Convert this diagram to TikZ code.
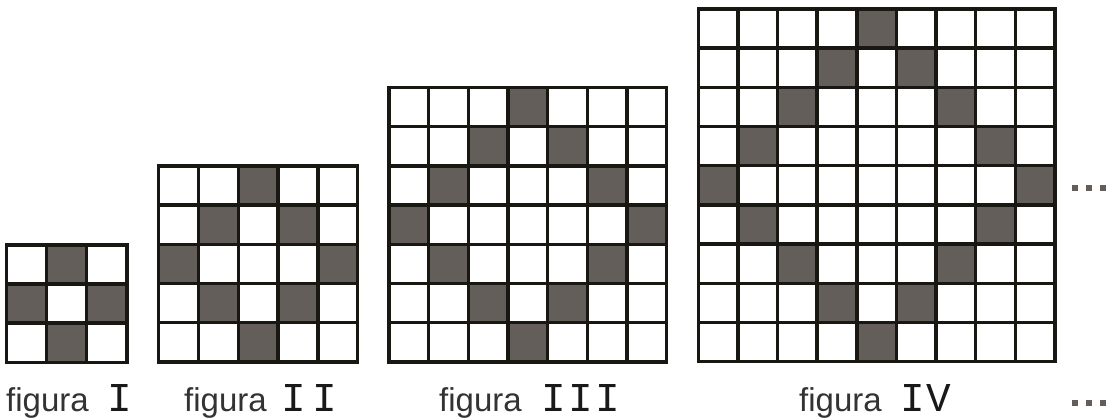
\documentclass[tikz,border=0pt]{standalone}
\usepackage{fontspec}
\newfontfamily\lsans{Liberation Sans}
\newfontfamily\lmono{Liberation Mono}
\definecolor{cellgray}{RGB}{99,94,89}
\definecolor{gridline}{RGB}{24,23,18}
\begin{document}
\begin{tikzpicture}[x=1pt,y=1pt,
  gridstroke/.style={draw=gridline,line width=3.4pt,line cap=rect},
  cellfill/.style={fill=cellgray},
  dotsq/.style={fill=cellgray},
  wordlabel/.style={anchor=base west,inner sep=0pt,font=\lsans\fontsize{33}{33}\selectfont,text=black!80},
  numlabel/.style={anchor=base,inner sep=0pt,font=\lmono\fontsize{41}{41}\selectfont,text=black!90}]
\useasboundingbox (0,0) rectangle (1109,419);
\fill[white] (0,0) rectangle (1109,419);
% grids: n / left x / top y (image coords) / cell width / cell height
\foreach \n/\xo/\yt/\w/\h in {1/6.5/245/40.1/39.1, 2/158.5/166/39.85/39.2, 3/389/87.5/39.65/39.2, 4/698.3/9/39.63/39.2}{
  \pgfmathtruncatemacro\N{2*\n+1}
  \pgfmathtruncatemacro\M{2*\n}
  \foreach \r in {0,...,\M}{
    \foreach \c in {0,...,\M}{
      \pgfmathtruncatemacro\d{abs(\r-\n)+abs(\c-\n)}
      \ifnum\d=\n
        \fill[cellfill] ({\xo+\c*\w},{419-\yt-\r*\h}) rectangle ({\xo+(\c+1)*\w},{419-\yt-(\r+1)*\h});
      \fi
    }
  }
  \foreach \i in {0,...,\N}{
    \draw[gridstroke] ({\xo+\i*\w},{419-\yt}) -- ({\xo+\i*\w},{419-\yt-\N*\h});
    \draw[gridstroke] ({\xo},{419-\yt-\i*\h}) -- ({\xo+\N*\w},{419-\yt-\i*\h});
  }
}
% labels
\node[wordlabel] (w1) at (6,7) {figura};
\node[numlabel] (n1) at (120,7) {I};
\node[wordlabel] (w2) at (184,7) {figura};
\node[numlabel] (n2) at (309,7) {I\kern6.4pt I};
\node[wordlabel] (w3) at (439,7) {figura};
\node[numlabel] (n3) at (581,7) {I\kern2.4pt I\kern2.4pt I};
\node[wordlabel] (w4) at (799,7) {figura};
\node[numlabel] (n4) at (926,7) {I\kern2pt V};
% ellipses
\foreach \cx in {1075,1089,1103}{
  \fill[dotsq] (\cx-3,231-3) rectangle (\cx+3,231+3);
  \fill[dotsq] (\cx-3,16-3) rectangle (\cx+3,16+3);
}
\end{tikzpicture}
\end{document}
